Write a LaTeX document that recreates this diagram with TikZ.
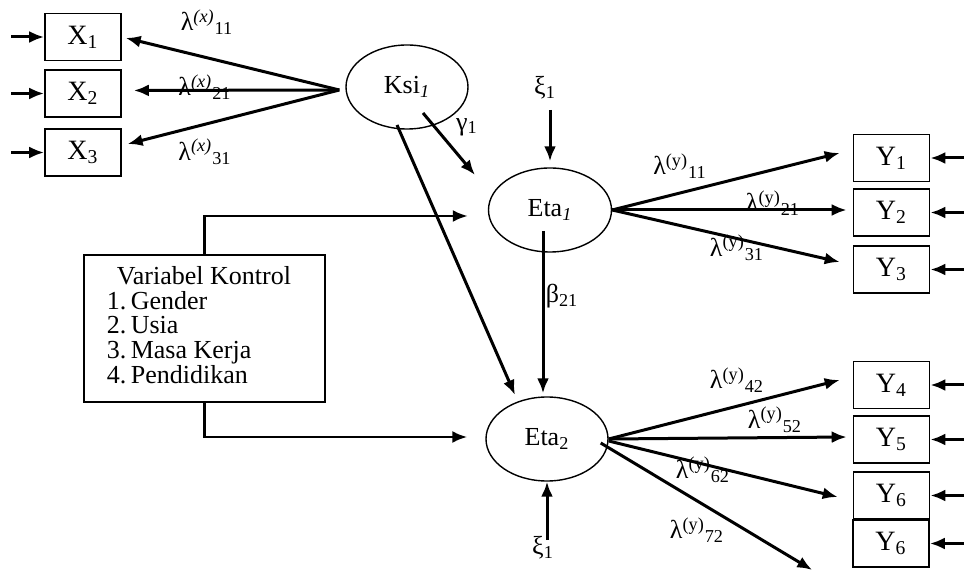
\documentclass[tikz,border=0pt]{standalone}
\usepackage{fontspec}
\setmainfont{Liberation Serif}
\usepackage{tikz}
\usetikzlibrary{shapes.geometric,arrows.meta}
\newcommand{\lamb}[2]{λ\textsuperscript{#1}\textsubscript{#2}}

\begin{document}
\begin{tikzpicture}[
    x=0.5pt, y=-0.5pt,
    >={Latex[length=7.5pt,width=6pt]},
    every node/.style={font=\fontsize{13}{15}\selectfont, inner sep=0pt},
    ind/.style={draw, line width=0.8pt, minimum width=38pt, minimum height=23.5pt, font=\fontsize{14}{16}\selectfont},
    lat/.style={draw, ellipse, line width=0.7pt, minimum width=61pt, minimum height=42pt},
    arr/.style={->, line width=1.5pt},
    link/.style={->, line width=1.3pt}]

    \useasboundingbox (0,0) rectangle (964,571);

    \node[ind] (X1) at (83,37) {X\textsubscript{1}};
    \node[ind] (X2) at (83,93.5) {X\textsubscript{2}};
    \node[ind] (X3) at (83,152.5) {X\textsubscript{3}};

    \node[lat] (Ksi) at (407,87) {Ksi\textsubscript{\textit{1}}};
    \node[lat, minimum width=61.5pt] (Eta1) at (550,210) {Eta\textsubscript{\textit{1}}};
    \node[lat] (Eta2) at (547,439) {Eta\textsubscript{2}};

    \node[ind] (Y1) at (891.5,158) {Y\textsubscript{1}};
    \node[ind] (Y2) at (891.5,212.5) {Y\textsubscript{2}};
    \node[ind] (Y3) at (891.5,269.5) {Y\textsubscript{3}};
    \node[ind] (Y4) at (891.5,385) {Y\textsubscript{4}};
    \node[ind] (Y5) at (891.5,439.5) {Y\textsubscript{5}};
    \node[ind] (Y6) at (891.5,495.5) {Y\textsubscript{6}};
    \node[ind] (Y7) at (891,543.5) {Y\textsubscript{6}};

    \node[draw, line width=1pt, minimum width=120.5pt, minimum height=73.5pt] (ctrl) at (204.5,328.5)
        {\fontsize{13}{12}\selectfont\begin{tabular}{@{}l@{\,}l@{}}
        \multicolumn{2}{@{\hspace{5pt}}l@{\hspace{5.5pt}}}{Variabel Kontrol}\\
        1.&Gender\\ 2.&Usia\\ 3.&Masa Kerja\\ 4.&Pendidikan\end{tabular}};

    \node (xi1) at (545,88) {ξ\textsubscript{1}};
    \node (xi2) at (543,548) {ξ\textsubscript{1}};
    \node (gam) at (467,127) {γ\textsubscript{1}};
    \node (bet) at (562,296) {β\textsubscript{21}};

    \node (lx11) at (207,22) {\lamb{\textit{(x)}}{11}};
    \node (lx21) at (205,87) {\lamb{\textit{(x)}}{21}};
    \node (lx31) at (205,152) {\lamb{\textit{(x)}}{31}};
    \node (ly11) at (680,166) {\lamb{(y)}{11}};
    \node (ly21) at (773,203) {\lamb{(y)}{21}};
    \node (ly31) at (737,248) {\lamb{(y)}{31}};
    \node (ly42) at (737,380) {\lamb{(y)}{42}};
    \node (ly52) at (775,420) {\lamb{(y)}{52}};
    \node (ly62) at (703,470) {\lamb{(y)}{62}};
    \node (ly72) at (697,530) {\lamb{(y)}{72}};

    \foreach \n in {1,2,3}
        \draw[arr] (X\n.west) ++(-16.5pt,0) -- (X\n.west);
    \foreach \n in {1,...,7}
        \draw[arr] (Y\n.east) ++(17pt,0) -- (Y\n.east);

    \draw[arr, shorten >=2pt] ([shift={(-3pt,-1.5pt)}]Ksi.west) -- (X1.east);
    \draw[arr, shorten >=6pt] ([shift={(-3pt,-1.5pt)}]Ksi.west) -- ([yshift=1.5pt]X2.east);
    \draw[arr, shorten >=3pt] ([shift={(-3pt,-1.5pt)}]Ksi.west) -- ([yshift=3.5pt]X3.east);

    \draw[arr] ([shift={(8pt,-13pt)}]Ksi.center) -- ([shift={(-37.5pt,17.5pt)}]Eta1.center);
    \draw[arr] ([shift={(-5pt,-19pt)}]Ksi.center) -- ([shift={(-16pt,22pt)}]Eta2.center);
    \draw[arr, shorten <=5pt, shorten >=3pt] (xi1.south -| Eta1.north) -- (Eta1.north);
    \draw[arr, shorten >=1.5pt] ([shift={(-3.5pt,-10.5pt)}]Eta1.center) -- ([xshift=-2pt]Eta2.north);
    \draw[arr, shorten <=-2pt] (Eta2.south |- xi2.north) -- (Eta2.south);

    \draw[link, shorten >=10pt] (ctrl.north) |- ([yshift=-3pt]Eta1.west);
    \draw[link, shorten >=9pt] (ctrl.south) |- ([yshift=1pt]Eta2.west);

    \draw[arr] (Eta1.east) -- ([shift={(-6.5pt,2.5pt)}]Y1.west);
    \draw[arr] (Eta1.east) -- ([shift={(-3pt,1.25pt)}]Y2.west);
    \draw[arr] (Eta1.east) -- ([shift={(-6.5pt,3.75pt)}]Y3.west);

    \draw[arr] (Eta2.east) -- ([shift={(-6.5pt,2.5pt)}]Y4.west);
    \draw[arr] (Eta2.east) -- ([shift={(-3pt,1.25pt)}]Y5.west);
    \draw[arr] ([yshift=-1pt]Eta2.east) -- ([shift={(-7.5pt,-0.75pt)}]Y6.west);
    \draw[arr] ([shift={(-4pt,-2pt)}]Eta2.east) -- ([shift={(-20pt,-13.25pt)}]Y7.west);

\end{tikzpicture}
\end{document}
